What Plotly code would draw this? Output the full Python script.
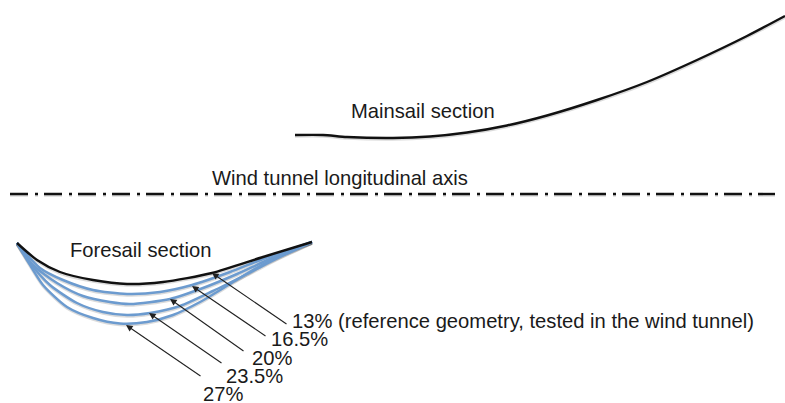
import plotly.graph_objects as go

# Section geometry (horizontal position, vertical position, downward)
main_x = [295, 323, 347, 393, 430, 467, 507, 547, 597, 647, 697, 747, 785]
main_y = [135, 135, 137, 138, 136.5, 132.5, 125.5, 115.5, 100, 82, 60, 36, 16]

axis_x = [10, 775]
axis_y = [194, 194]

fore_13_x = [17, 37, 60, 93, 127, 163, 212, 263, 312]
fore_13_y = [243, 260, 272, 280, 284, 282, 273, 257, 242]

fore_165_x = [17, 40, 63, 93, 127, 160, 192, 230, 263, 312]
fore_165_y = [243, 268, 280, 290, 294, 292, 285, 272, 259, 242]

fore_20_x = [17, 33, 57, 83, 110, 130, 170, 203, 237, 270, 312]
fore_20_y = [243, 265, 283, 296, 302, 304, 299, 288, 274, 259, 242]

fore_235_x = [17, 30, 50, 77, 103, 127, 150, 180, 213, 247, 280, 312]
fore_235_y = [243, 263, 285, 303, 312, 315, 313, 306, 291, 274, 257, 242]

fore_27_x = [17, 27, 43, 67, 93, 120, 147, 173, 200, 230, 260, 287, 312]
fore_27_y = [243, 260, 285, 307, 318, 323.5, 322, 315, 302, 284, 266, 253, 242]

blue_curves = [
    (fore_27_x, fore_27_y),
    (fore_235_x, fore_235_y),
    (fore_20_x, fore_20_y),
    (fore_165_x, fore_165_y),
]

title_labels = ["Mainsail section", "Wind tunnel longitudinal axis", "Foresail section"]
title_x = [351, 212, 70]
title_y = [111, 178, 250]

pct_labels = ["13% (reference geometry, tested in the wind tunnel)", "16.5%", "20%", "23.5%", "27%"]
pct_x = [292, 271, 252, 226, 203]
pct_y = [321, 339, 358, 376, 394]

tail_x = [288, 267, 245, 223, 202]
tail_y = [325, 337, 352, 364, 377]
head_x = [212, 192, 170, 149, 126]
head_y = [273, 286, 299, 313, 325]

BLUE = "#6c9bcf"
SHADOW = "rgba(0,0,0,0.14)"
TEXT = "#1a1a1a"
FONT = "Liberation Sans, Arial, sans-serif"

fig = go.Figure()


def curve(x, y, color, width, dash=None):
    fig.add_trace(go.Scatter(
        x=x, y=y, mode="lines", hoverinfo="skip",
        line=dict(color=color, width=width, shape="spline", smoothing=0.7, dash=dash),
    ))


# soft drop shadows under the strokes
curve(main_x, [v + 1.5 for v in main_y], SHADOW, 2.5)
curve(axis_x, [v + 1.5 for v in axis_y], SHADOW, 2.5, "18px,7px,3px,6px")
for cx, cy in blue_curves:
    curve(cx, [v + 1.5 for v in cy], SHADOW, 2.5)
curve(fore_13_x, [v + 1.5 for v in fore_13_y], SHADOW, 2.5)

for cx, cy in blue_curves:
    curve(cx, cy, BLUE, 2.5)
curve(fore_13_x, fore_13_y, "#111111", 2.4)
curve(main_x, main_y, "#111111", 2.4)
curve(axis_x, axis_y, "#111111", 2.4, "18px,7px,3px,6px")

for lbl, x, y in zip(title_labels + pct_labels, title_x + pct_x, title_y + pct_y):
    fig.add_annotation(
        x=x, y=y, xref="x", yref="y", text=lbl, showarrow=False,
        xanchor="left", yanchor="middle", borderpad=0, borderwidth=0,
        font=dict(family=FONT, size=20.2, color=TEXT),
    )

for tx, ty, hx, hy in zip(tail_x, tail_y, head_x, head_y):
    fig.add_annotation(
        x=hx, y=hy, ax=tx, ay=ty, xref="x", yref="y", axref="x", ayref="y",
        text="", showarrow=True, arrowhead=2, arrowsize=1.2, arrowwidth=1.1,
        arrowcolor="#222222",
    )

fig.update_layout(
    width=785, height=403, autosize=False,
    margin=dict(l=0, r=0, t=0, b=0),
    paper_bgcolor="white", plot_bgcolor="white",
    showlegend=False,
    xaxis=dict(range=[0, 785], visible=False, fixedrange=True),
    yaxis=dict(range=[403, 0], visible=False, fixedrange=True),
)
fig.write_html(
    "out.html",
    config={"displayModeBar": False},
    post_script="document.body.style.margin='0';document.body.style.overflow='hidden';",
)
